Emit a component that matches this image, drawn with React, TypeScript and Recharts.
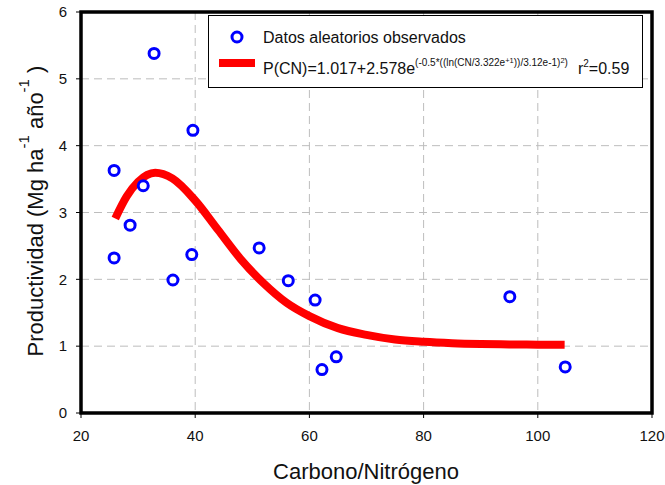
import React from 'react';
import { ComposedChart, Scatter, Line, XAxis, YAxis, CartesianGrid, ReferenceArea } from 'recharts';

// observed points (C/N ratio, productivity)
const obsCN = [25.8, 25.8, 28.6, 30.9, 32.8, 36.1, 39.6, 39.4, 51.2, 56.3, 61.0, 62.2, 64.7, 95.1, 104.8];
const obsProd = [2.32, 3.63, 2.81, 3.40, 5.38, 1.99, 4.23, 2.37, 2.47, 1.98, 1.69, 0.65, 0.84, 1.74, 0.69];

// fitted curve
const fitCN = [26, 28, 30, 33, 36, 40, 44, 48, 52, 56, 60, 65, 70, 75, 80, 85, 90, 95, 100, 104.7];
const fitProd = [2.91, 3.24, 3.46, 3.595, 3.51, 3.18, 2.74, 2.30, 1.94, 1.65, 1.45, 1.27, 1.17, 1.10, 1.066, 1.045, 1.033, 1.026, 1.022, 1.02];

const xTicks = [20, 40, 60, 80, 100, 120];
const yTicks = [0, 1, 2, 3, 4, 5, 6];

const points = obsCN.map((x, i) => ({ x, y: obsProd[i] }));
const curve = fitCN.map((x, i) => ({ x, y: fitProd[i] }));

const FONT = '"Liberation Sans", Arial, sans-serif';

const Ring = (props: any) => {
  const { cx, cy } = props;
  return <circle cx={cx} cy={cy} r={5} fill="white" stroke="#0000ff" strokeWidth={3} />;
};

const LegendBox = () => (
  <div
    style={{
      position: 'absolute',
      left: 208,
      top: 15,
      width: 435,
      height: 73,
      border: '1px solid #000',
      background: '#fff',
      boxSizing: 'border-box',
      fontFamily: FONT,
      color: '#111',
    }}
  >
    <svg width={20} height={20} style={{ position: 'absolute', left: 18, top: 11 }}>
      <circle cx={10} cy={10} r={5} fill="white" stroke="#0000ff" strokeWidth={3} />
    </svg>
    <div style={{ position: 'absolute', left: 54, top: 12, fontSize: 16, lineHeight: '20px' }}>
      Datos aleatorios observados
    </div>
    <div style={{ position: 'absolute', left: 10, top: 43, width: 36, height: 8, background: '#ff0000' }} />
    <div style={{ position: 'absolute', left: 54, top: 40, fontSize: 16, lineHeight: '26px', whiteSpace: 'nowrap' }}>
      P(CN)=1.017+2.578e
      <span style={{ fontSize: 10, position: 'relative', top: -8 }}>
        (-0.5*((ln(CN/3.322e
        <span style={{ fontSize: 7.5, position: 'relative', top: -3 }}>+1</span>
        ))/3.12e-1)
        <span style={{ fontSize: 7.5, position: 'relative', top: -3 }}>2</span>)
      </span>
      <span style={{ marginLeft: 10 }}>
        r<span style={{ fontSize: 10, position: 'relative', top: -7 }}>2</span>=0.59
      </span>
    </div>
  </div>
);

const YLabel = () => (
  <text x={43} y={211} transform="rotate(-90, 43, 211)" textAnchor="middle" fontFamily={FONT} fontSize={22} fill="#111">
    Productividad (Mg ha
    <tspan fontSize={15} dy={-14}>-1</tspan>
    <tspan fontSize={22} dy={14}> año</tspan>
    <tspan fontSize={15} dy={-14}>-1</tspan>
    <tspan fontSize={22} dy={14}> )</tspan>
  </text>
);

const XLabel = () => (
  <text x={366} y={479} textAnchor="middle" fontFamily={FONT} fontSize={22} fill="#111">
    Carbono/Nitrógeno
  </text>
);

export default function App() {
  return (
    <div style={{ position: 'absolute', left: 0, top: 0, width: 665, height: 485, background: '#fff' }}>
      <ComposedChart width={665} height={485} margin={{ top: 12, right: 13, bottom: 0, left: 0 }}>
        <CartesianGrid stroke="#bdbdbd" strokeDasharray="8 5" strokeWidth={1} />
        <XAxis
          type="number"
          dataKey="x"
          domain={[20, 120]}
          ticks={xTicks}
          allowDataOverflow
          height={72}
          tickSize={5}
          tickMargin={12}
          stroke="#000"
          tick={{ fontSize: 15, fill: '#111', fontFamily: FONT }}
          label={<XLabel />}
        />
        <YAxis
          type="number"
          dataKey="y"
          domain={[0, 6]}
          ticks={yTicks}
          allowDataOverflow
          width={81}
          tickSize={5}
          tickMargin={9}
          stroke="#000"
          tick={{ fontSize: 15, fill: '#111', fontFamily: FONT }}
          label={<YLabel />}
        />
        <Line
          data={curve}
          dataKey="y"
          type="monotone"
          stroke="#ff0000"
          strokeWidth={8}
          strokeLinecap="butt"
          dot={false}
          activeDot={false}
          isAnimationActive={false}
        />
        <Scatter data={points} dataKey="y" shape={<Ring />} isAnimationActive={false} />
        <ReferenceArea x1={20} x2={120} y1={0} y2={6} fill="none" stroke="#000" strokeWidth={3.5} ifOverflow="visible" />
      </ComposedChart>
      <LegendBox />
    </div>
  );
}
